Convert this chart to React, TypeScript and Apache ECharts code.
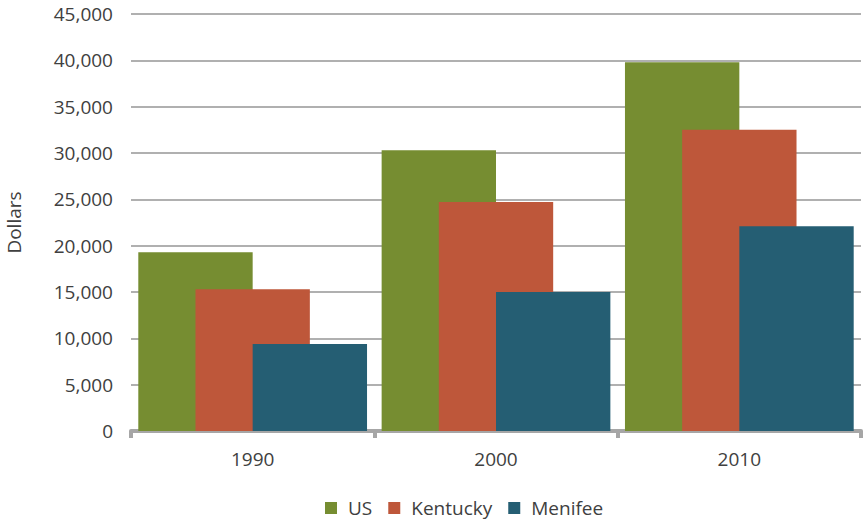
import React, { useEffect, useRef } from "react";
import * as echarts from "echarts";

const categories = ["1990", "2000", "2010"];
const usValues = [19300, 30300, 39800];
const kentuckyValues = [15300, 24700, 32500];
const menifeeValues = [9400, 15000, 22100];

export default function App() {
  const ref = useRef<HTMLDivElement>(null);
  useEffect(() => {
    const chart = echarts.init(ref.current!, null, { renderer: "svg" });
    const font = "'Open Sans', 'Noto Sans', sans-serif";
    const mk = (name: string, data: number[], color: string) => ({
      name,
      type: "bar",
      data,
      barGap: "-50%",
      barCategoryGap: "6%",
      itemStyle: { color },
    });
    chart.setOption({
      animation: false,
      textStyle: { fontFamily: font },
      grid: {
        left: 131,
        right: 2,
        top: 14,
        bottom: 89,
        containLabel: false,
        outerBoundsMode: "none",
      },
      legend: {
        top: 498,
        left: 325,
        padding: 0,
        itemWidth: 12,
        itemHeight: 12,
        itemGap: 16,
        icon: "rect",
        textStyle: {
          fontSize: 19,
          lineHeight: 20,
          color: "#404040",
          fontFamily: font,
          padding: [0, 0, 0, 6],
        },
        data: ["US", "Kentucky", "Menifee"],
      },
      xAxis: {
        type: "category",
        data: categories,
        axisLine: { lineStyle: { color: "#a6a6a6", width: 4 } },
        axisTick: { show: true, length: 7, lineStyle: { color: "#a6a6a6", width: 4 } },
        axisLabel: { fontSize: 19, color: "#404040", margin: 18, fontFamily: font },
      },
      yAxis: {
        type: "value",
        min: 0,
        max: 45000,
        interval: 5000,
        name: "Dollars",
        nameLocation: "middle",
        nameGap: 108,
        nameRotate: 90,
        nameTextStyle: { fontSize: 19, color: "#404040", fontFamily: font },
        axisLine: { show: false },
        axisTick: { show: false },
        splitLine: { lineStyle: { color: "#b0b0b0", width: 2 } },
        axisLabel: {
          fontSize: 19,
          color: "#404040",
          margin: 18,
          fontFamily: font,
          formatter: (v: number) => v.toLocaleString("en-US"),
        },
      },
      series: [
        mk("US", usValues, "#768d31"),
        mk("Kentucky", kentuckyValues, "#be573a"),
        mk("Menifee", menifeeValues, "#255e73"),
      ],
    });
    return () => chart.dispose();
  }, []);
  return <div ref={ref} style={{ width: 863, height: 520, position: "absolute", left: 0, top: 0 }} />;
}
